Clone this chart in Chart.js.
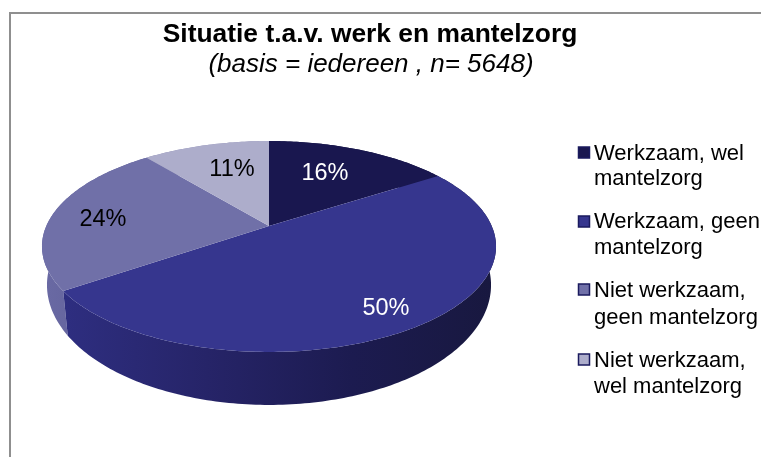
<!DOCTYPE html>
<html><head><meta charset="utf-8">
<style>html,body{margin:0;padding:0;background:#fff}canvas{display:block;filter:blur(0.45px)}</style>
<script src="https://cdn.jsdelivr.net/npm/chart.js@4/dist/chart.umd.min.js"></script>
</head><body><canvas id="c" width="761" height="457"></canvas>
<script>
const categories = ["Werkzaam, wel mantelzorg","Werkzaam, geen mantelzorg","Niet werkzaam, geen mantelzorg","Niet werkzaam, wel mantelzorg"];
const legendLines = [["Werkzaam, wel","mantelzorg"],["Werkzaam, geen","mantelzorg"],["Niet werkzaam,","geen mantelzorg"],["Niet werkzaam,","wel mantelzorg"]];
const values = [16,50,24,11];
const topColors = ["#19174f","#36368e","#7070a8","#adadcb"];
const wallStops = [["#141440","#141440"],["#2e2e80","#262468","#1c1b50","#18183f"],["#6a6aa4","#5a5a92"],["#8f8fb5","#8f8fb5"]];
const titleText = "Situatie t.a.v. werk en mantelzorg";
const subtitleText = "(basis = iedereen , n= 5648)";
const labelColors = ["#fff","#fff","#000","#000"];
const labelPos = [[325,174],[386,309],[103,220],[232,170]];
const legendRows = [[154,179],[222,248],[291,318],[361,387]];
const legendBox = [147,216,284,354];

const PERSP = 0.1943, SQUASH = 0.4557, NARROW = 0.978, TOP_CY = 20.5, BOTTOM_CY = 59, STRETCH = 1.137;
function proj(el,t){
  const u=Math.cos(t), v=Math.sin(t), d=1-PERSP*v;
  return [el.x+el.outerRadius*u/d, el.y+el.outerRadius*SQUASH*v/d];
}
function arcPts(el){
  const n=Math.max(8,Math.ceil((el.endAngle-el.startAngle)*60)), p=[];
  for(let i=0;i<=n;i++) p.push(proj(el,el.startAngle+(el.endAngle-el.startAngle)*i/n));
  return p;
}
const pie3d={
  id:'pie3d',
  beforeDraw(chart){
    const c=chart.ctx;
    c.save();c.strokeStyle='#8f8f8f';c.lineWidth=2;
    c.beginPath();c.moveTo(10,457);c.lineTo(10,13);c.lineTo(761,13);c.stroke();c.restore();
  },
  beforeDatasetsDraw(chart){
    const c=chart.ctx, arcs=chart.getDatasetMeta(0).data;
    [0,3,2,1].forEach(i=>{
      const el=arcs[i], pts=arcPts(el);
      const g=c.createLinearGradient(Math.min(...pts.map(p=>p[0])),0,Math.max(...pts.map(p=>p[0])),0);
      wallStops[i].forEach((s,k,a)=>g.addColorStop(k/(a.length-1),s));
      c.beginPath();
      pts.forEach((p,k)=>k?c.lineTo(p[0],p[1]):c.moveTo(p[0],p[1]));
      pts.slice().reverse().forEach(p=>c.lineTo(el.x+(p[0]-el.x)*NARROW,el.y+BOTTOM_CY+(p[1]-el.y-TOP_CY)*STRETCH));
      c.closePath();c.fillStyle=g;c.fill();
    });
    arcs.forEach((el,i)=>{
      c.beginPath();c.moveTo(el.x,el.y);
      arcPts(el).forEach(p=>c.lineTo(p[0],p[1]));
      c.closePath();c.fillStyle=el.options.backgroundColor;c.fill();
    });
    return false;
  },
  afterDraw(chart){
    const c=chart.ctx;
    c.save();c.textBaseline='middle';
    c.fillStyle='#000';c.textAlign='center';
    c.font='bold 26.4px "Liberation Sans"';c.fillText(titleText,370,35);
    c.font='italic 26px "Liberation Sans"';c.fillText(subtitleText,371,65);
    c.font='23.5px "Liberation Sans"';
    values.forEach((v,i)=>{c.fillStyle=labelColors[i];c.fillText(v+'%',labelPos[i][0],labelPos[i][1]);});
    c.textAlign='left';c.font='22px "Liberation Sans"';c.fillStyle='#000';
    legendLines.forEach((ls,i)=>{
      c.fillStyle=topColors[i];c.strokeStyle='#1a1a5e';c.lineWidth=1.5;
      c.fillRect(578.5,legendBox[i],11,11);c.strokeRect(578.5,legendBox[i],11,11);
      c.fillStyle='#000';
      ls.forEach((t,k)=>c.fillText(t,594,legendRows[i][k]));
    });
    c.restore();
  }
};
new Chart(document.getElementById('c'),{
  type:'pie',
  data:{labels:categories,datasets:[{data:values,backgroundColor:topColors,borderWidth:0}]},
  options:{responsive:false,animation:false,
    layout:{padding:{left:46.3,right:269.3,top:3.3,bottom:8.3}},
    plugins:{legend:{display:false},title:{display:false},tooltip:{enabled:false}}},
  plugins:[pie3d]
});
</script></body></html>
